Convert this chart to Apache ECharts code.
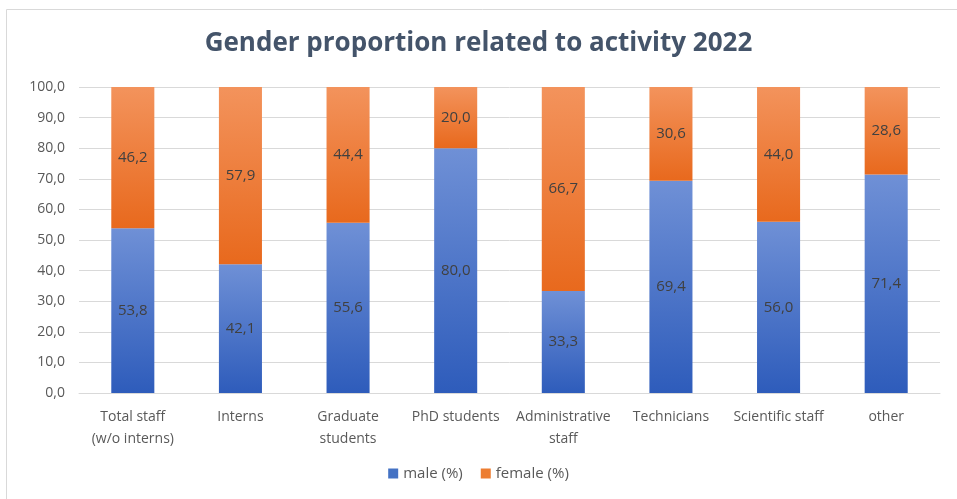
<!DOCTYPE html>
<html>
<head>
<meta charset="utf-8">
<script src="https://cdn.jsdelivr.net/npm/echarts@6/dist/echarts.min.js"></script>
<style>
  html, body { margin: 0; padding: 0; background: #fff; }
  #main { width: 957px; height: 499px; }
</style>
</head>
<body>
<div id="main"></div>
<script>
// categories and values
var categories = ['Total staff\n(w/o interns)', 'Interns', 'Graduate\nstudents', 'PhD students',
  'Administrative\nstaff', 'Technicians', 'Scientific staff', 'other'];
var male = [53.8, 42.1, 55.6, 80.0, 33.3, 69.4, 56.0, 71.4];
var female = [46.2, 57.9, 44.4, 20.0, 66.7, 30.6, 44.0, 28.6];

function comma(v) {
  return Number(v).toFixed(1).replace('.', ',');
}

function grad(top, bottom) {
  return new echarts.graphic.LinearGradient(0, 0, 0, 1, [
    { offset: 0, color: top },
    { offset: 1, color: bottom }
  ]);
}

var font = '"Open Sans", sans-serif';
var chart = echarts.init(document.getElementById('main'));

chart.setOption({
  animation: false,
  textStyle: { fontFamily: font },
  graphic: [{
    type: 'rect',
    shape: { x: 6.5, y: 9.5, width: 960, height: 500 },
    style: { fill: 'none', stroke: '#d9d9d9', lineWidth: 1 },
    silent: true
  }],
  title: {
    text: 'Gender proportion related to activity 2022',
    left: 'center',
    top: 26,
    textStyle: { color: '#44546a', fontSize: 26, fontWeight: 'bold', fontFamily: font }
  },
  legend: {
    bottom: 13,
    left: 'center',
    itemWidth: 10,
    itemHeight: 10,
    itemGap: 18,
    icon: 'rect',
    textStyle: { color: '#595959', fontSize: 15 },
    data: [
      { name: 'male (%)', itemStyle: { color: '#4472c4' } },
      { name: 'female (%)', itemStyle: { color: '#ed7d31' } }
    ]
  },
  grid: { left: 79, right: 17, top: 87, bottom: 106 },
  xAxis: {
    type: 'category',
    data: categories,
    axisLine: { lineStyle: { color: '#d9d9d9' } },
    axisTick: { show: false },
    axisLabel: { color: '#595959', fontSize: 14, interval: 0, margin: 13, lineHeight: 22 }
  },
  yAxis: {
    type: 'value',
    min: 0,
    max: 100,
    interval: 10,
    axisLabel: { color: '#595959', fontSize: 14, margin: 14, formatter: comma },
    splitLine: { lineStyle: { color: '#d9d9d9' } }
  },
  series: [
    {
      name: 'male (%)',
      type: 'bar',
      stack: 'total',
      barWidth: '40%',
      data: male,
      itemStyle: { color: grad('#6f90d6', '#2e5cbb') },
      label: { show: true, position: 'inside', color: '#404040', fontSize: 15, formatter: function (p) { return comma(p.value); } }
    },
    {
      name: 'female (%)',
      type: 'bar',
      stack: 'total',
      barWidth: '40%',
      data: female,
      itemStyle: { color: grad('#f3935c', '#e8691d') },
      label: { show: true, position: 'inside', color: '#404040', fontSize: 15, formatter: function (p) { return comma(p.value); } }
    }
  ]
});
</script>
</body>
</html>
